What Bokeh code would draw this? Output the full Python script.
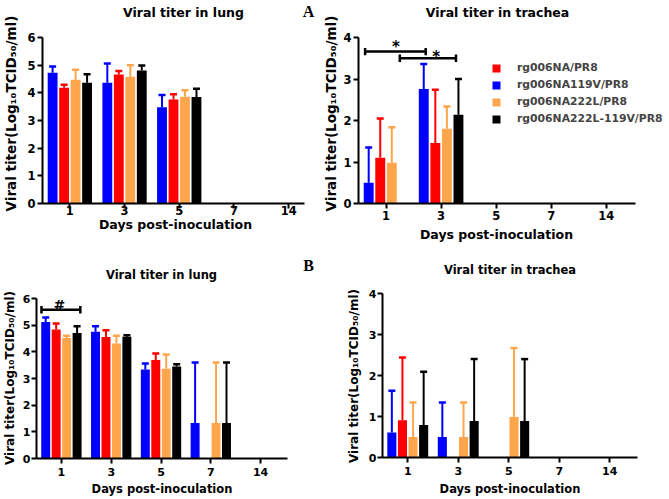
from math import pi
from bokeh.plotting import figure
from bokeh.models import Range1d, FixedTicker, Label, Legend, LegendItem, ColumnDataSource
from bokeh.layouts import column, row
from bokeh.embed import file_html
from bokeh.resources import INLINE

# ---------------- data ----------------
DAYS = ["1", "3", "5", "7", "14"]
STRAINS = ["rg006NA119V/PR8", "rg006NA/PR8", "rg006NA222L/PR8", "rg006NA222L-119V/PR8"]  # bar order
LEGEND_ORDER = ["rg006NA/PR8", "rg006NA119V/PR8", "rg006NA222L/PR8", "rg006NA222L-119V/PR8"]
COLORS = {"rg006NA119V/PR8": "#0000FF", "rg006NA/PR8": "#FF0000",
          "rg006NA222L/PR8": "#FFA64D", "rg006NA222L-119V/PR8": "#000000"}

# Panel A - lung (mean, SD)
A_LUNG_119V = [4.73, 4.36, 3.48, 0, 0]
A_LUNG_119V_SD = [0.22, 0.70, 0.44, 0, 0]
A_LUNG_NA = [4.18, 4.66, 3.76, 0, 0]
A_LUNG_NA_SD = [0.11, 0.13, 0.19, 0, 0]
A_LUNG_222L = [4.47, 4.58, 3.86, 0, 0]
A_LUNG_222L_SD = [0.36, 0.42, 0.23, 0, 0]
A_LUNG_222L119V = [4.36, 4.81, 3.85, 0, 0]
A_LUNG_222L119V_SD = [0.31, 0.18, 0.30, 0, 0]

# Panel A - trachea
A_TRACHEA_119V = [0.50, 2.76, 0, 0, 0]
A_TRACHEA_119V_SD = [0.85, 0.60, 0, 0, 0]
A_TRACHEA_NA = [1.10, 1.46, 0, 0, 0]
A_TRACHEA_NA_SD = [0.95, 1.28, 0, 0, 0]
A_TRACHEA_222L = [0.98, 1.80, 0, 0, 0]
A_TRACHEA_222L_SD = [0.86, 0.54, 0, 0, 0]
A_TRACHEA_222L119V = [0, 2.14, 0, 0, 0]
A_TRACHEA_222L119V_SD = [0, 0.86, 0, 0, 0]

# Panel B - lung
B_LUNG_119V = [5.12, 4.75, 3.34, 1.33, 0]
B_LUNG_119V_SD = [0.17, 0.21, 0.22, 2.27, 0]
B_LUNG_NA = [4.84, 4.56, 3.69, 0, 0]
B_LUNG_NA_SD = [0.22, 0.25, 0.25, 0, 0]
B_LUNG_222L = [4.52, 4.31, 3.37, 1.33, 0]
B_LUNG_222L_SD = [0.08, 0.29, 0.53, 2.27, 0]
B_LUNG_222L119V = [4.71, 4.57, 3.45, 1.33, 0]
B_LUNG_222L119V_SD = [0.25, 0.05, 0.08, 2.27, 0]

# Panel B - trachea
B_TRACHEA_119V = [0.61, 0.50, 0, 0, 0]
B_TRACHEA_119V_SD = [1.02, 0.84, 0, 0, 0]
B_TRACHEA_NA = [0.91, 0, 0, 0, 0]
B_TRACHEA_NA_SD = [1.53, 0, 0, 0, 0]
B_TRACHEA_222L = [0.50, 0.50, 0.99, 0, 0]
B_TRACHEA_222L_SD = [0.84, 0.84, 1.68, 0, 0]
B_TRACHEA_222L119V = [0.79, 0.89, 0.89, 0, 0]
B_TRACHEA_222L119V_SD = [1.30, 1.51, 1.51, 0, 0]

TITLE_LUNG = "Viral titer in lung"
TITLE_TRACHEA = "Viral titer in trachea"
X_LABEL = "Days post-inoculation"
Y_LABEL = "Viral titer(Log\u2081\u2080TCID\u2085\u2080/ml)"

# ---------------- style ----------------
FONT = "DejaVu Sans"
OFFSETS = [-0.315, -0.105, 0.105, 0.315]
BAR_W = 0.18


def pos(day):
    return DAYS.index(day) + 0.5


def make_panel(means, sds, ymax, xend, w, h, fl, ft, fr, fb, tick_px, x_standoff, y_standoff):
    # the frame fills the whole canvas; the axes sit at fixed data positions
    sx = (fr - fl) / xend
    sy = (fb - ft) / ymax
    p = figure(width=w, height=h,
               x_range=Range1d(-fl / sx, xend + (w - fr) / sx),
               y_range=Range1d(-(h - fb) / sy, ymax + ft / sy),
               output_backend="svg", toolbar_location=None, title=None,
               min_border=0, min_border_left=0, min_border_right=0,
               min_border_top=0, min_border_bottom=0)
    p.outline_line_color = None
    p.xgrid.visible = False
    p.ygrid.visible = False
    p.background_fill_color = "white"
    p.border_fill_color = "white"
    renderers = {}
    for k, name in enumerate(STRAINS):
        m, s = means[k], sds[k]
        xs, tops, ups = [], [], []
        for d, v, e in zip(DAYS, m, s):
            if v > 0:
                xs.append(pos(d) + OFFSETS[k])
                tops.append(v)
                ups.append(v + e)
        src = ColumnDataSource(dict(x=xs, top=tops, up=ups))
        col = COLORS[name]
        r = p.vbar(x="x", top="top", width=BAR_W, source=src, fill_color=col, line_color=None)
        p.segment(x0="x", y0="top", x1="x", y1="up", source=src, line_color=col, line_width=2)
        p.scatter(x="x", y="up", source=src, marker="dash", size=7, line_color=col, line_width=2.5)
        renderers[name] = r
    for ax in (p.xaxis[0], p.yaxis[0]):
        ax.axis_line_width = 2
        ax.major_tick_line_width = 2
        ax.major_tick_out = 5
        ax.major_tick_in = 0
        ax.minor_tick_line_color = None
        ax.major_label_text_font = FONT
        ax.major_label_text_font_style = "bold"
        ax.major_label_text_font_size = f"{tick_px}px"
        ax.major_label_text_color = "black"
        ax.fixed_location = 0
    p.xaxis[0].bounds = (0, xend)
    p.yaxis[0].bounds = (0, ymax)
    p.xaxis[0].major_label_standoff = x_standoff
    p.yaxis[0].major_label_standoff = y_standoff
    p.xaxis.ticker = FixedTicker(ticks=[pos(d) for d in DAYS])
    p.xaxis.major_label_overrides = {pos(d): d for d in DAYS}
    p.yaxis.ticker = FixedTicker(ticks=list(range(ymax + 1)))
    p._h = h
    return p, renderers


def text(p, cx, cy, txt, size, angle=0, font=FONT, style="bold", align="center", baseline="middle"):
    p.add_layout(Label(x=cx, y=p._h - cy, x_units="screen", y_units="screen", text=txt,
                       angle=angle, text_font=font, text_font_size=f"{size}px",
                       text_font_style=style, text_align=align, text_baseline=baseline,
                       text_color="black"))


def data_text(p, x, y, txt, size):
    p.add_layout(Label(x=x, y=y, text=txt, text_font=FONT, text_font_size=f"{size}px",
                       text_font_style="bold", text_align="center", text_baseline="alphabetic",
                       text_color="black"))


def bracket(p, x0, x1, y, dy):
    p.segment(x0=[x0, x0, x1], y0=[y, y - dy, y - dy], x1=[x1, x0, x1], y1=[y, y + dy, y + dy],
              line_color="black", line_width=2.5)


# ---------------- panels ----------------
p1, _ = make_panel([A_LUNG_119V, A_LUNG_NA, A_LUNG_222L, A_LUNG_222L119V],
                   [A_LUNG_119V_SD, A_LUNG_NA_SD, A_LUNG_222L_SD, A_LUNG_222L119V_SD],
                   6, 4.79, 318, 245, 42, 37, 304, 203, 11.5, -3, 2)
text(p1, 183, 12, TITLE_LUNG, 12.5)
text(p1, 10, 113, Y_LABEL, 13.5, angle=pi / 2)
text(p1, 175, 224, X_LABEL, 12.5)
text(p1, 308, 11, "A", 16, font="Liberation Serif")

p2, r2 = make_panel([A_TRACHEA_119V, A_TRACHEA_NA, A_TRACHEA_222L, A_TRACHEA_222L119V],
                    [A_TRACHEA_119V_SD, A_TRACHEA_NA_SD, A_TRACHEA_222L_SD, A_TRACHEA_222L119V_SD],
                    4, 5.03, 350, 245, 40, 37, 317, 203, 11.5, 2, 2)
text(p2, 179, 12, TITLE_TRACHEA, 12.5)
text(p2, 12.5, 113, Y_LABEL, 13.5, angle=pi / 2)
text(p2, 178, 234, X_LABEL, 12.5)
bracket(p2, pos("1") - 0.38, pos("3") - 0.28, 3.66, 0.09)
bracket(p2, pos("1") + 0.25, pos("3") + 0.27, 3.50, 0.09)
data_text(p2, pos("1") + 0.18, 3.76, "*", 15)
data_text(p2, pos("3") - 0.09, 3.54, "*", 15)
legend = Legend(items=[LegendItem(label=n, renderers=[r2[n]]) for n in LEGEND_ORDER],
                location=(173, 119.5), padding=0, margin=0, spacing=3,
                glyph_width=10, glyph_height=10, label_height=14, label_standoff=16,
                label_text_font=FONT, label_text_font_style="bold", label_text_font_size="10.8px",
                background_fill_alpha=0, border_line_color=None)
p2.add_layout(legend)

p3, _ = make_panel([B_LUNG_119V, B_LUNG_NA, B_LUNG_222L, B_LUNG_222L119V],
                   [B_LUNG_119V_SD, B_LUNG_NA_SD, B_LUNG_222L_SD, B_LUNG_222L119V_SD],
                   6, 5.04, 338, 253, 36, 53, 287, 213, 11, 4, 1)
text(p3, 161, 29, TITLE_LUNG, 11.5)
text(p3, 9, 132.5, Y_LABEL, 12, angle=pi / 2)
text(p3, 161.5, 243, X_LABEL, 11.5)
text(p3, 308, 20, "B", 16, font="Liberation Serif")
bracket(p3, pos("1") - 0.40, pos("1") + 0.38, 5.58, 0.14)
data_text(p3, pos("1") - 0.04, 5.74, "#", 14)

p4, _ = make_panel([B_TRACHEA_119V, B_TRACHEA_NA, B_TRACHEA_222L, B_TRACHEA_222L119V],
                   [B_TRACHEA_119V_SD, B_TRACHEA_NA_SD, B_TRACHEA_222L_SD, B_TRACHEA_222L119V_SD],
                   4, 5.05, 330, 253, 44, 48, 299, 212, 11, 4, 1)
text(p4, 171.5, 24, TITLE_TRACHEA, 11.5)
text(p4, 15, 130.5, Y_LABEL, 12, angle=pi / 2)
text(p4, 171.5, 243, X_LABEL, 11.5)

layout = column(row(p1, p2), row(p3, p4))
open("out.html", "w").write(file_html(layout, INLINE))
